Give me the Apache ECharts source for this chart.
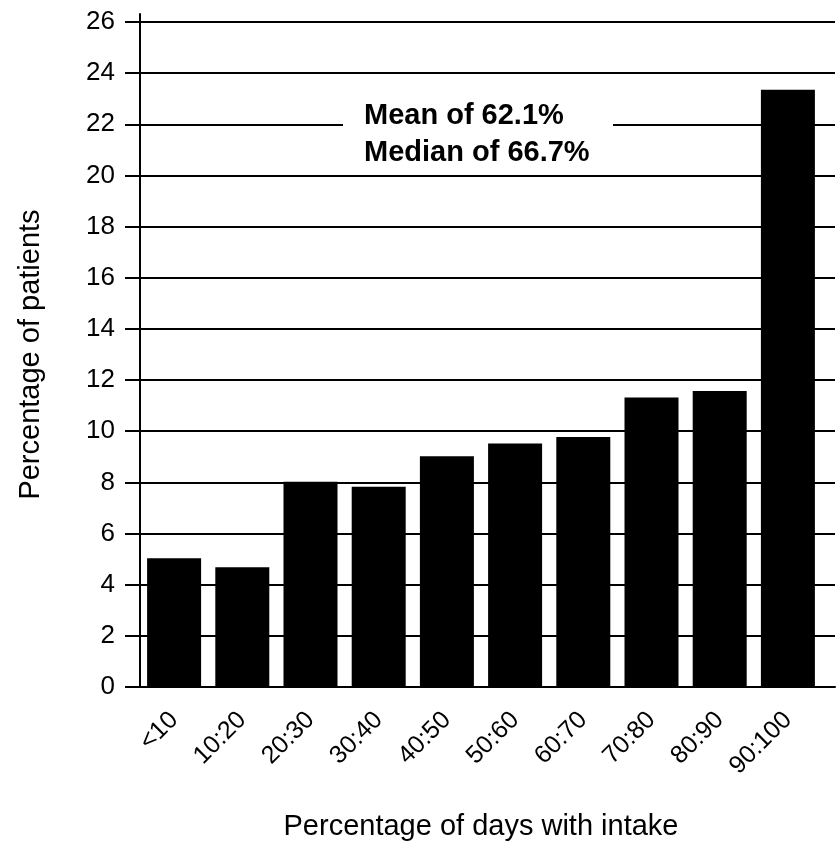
<!DOCTYPE html>
<html>
<head>
<meta charset="utf-8">
<script src="https://cdn.jsdelivr.net/npm/echarts@6/dist/echarts.min.js"></script>
<style>
  html, body { margin: 0; padding: 0; background: #fff; }
  #chart { width: 838px; height: 846px; }
</style>
</head>
<body>
<div id="chart"></div>
<script>
// Distribution of patients by share of days with intake
const categories = ['<10', '10:20', '20:30', '30:40', '40:50', '50:60', '60:70', '70:80', '80:90', '90:100'];
const patientPct = [5.0, 4.65, 8.0, 7.8, 9.0, 9.5, 9.75, 11.3, 11.55, 23.35];
const yTicks = { min: 0, max: 26, interval: 2 };
const summaryLines = ['Mean of 62.1%', 'Median of 66.7%'];

const FONT = '"Liberation Sans", Arial, Helvetica, sans-serif';
const chart = echarts.init(document.getElementById('chart'), null, { renderer: 'canvas' });

const option = {
  backgroundColor: '#ffffff',
  animation: false,
  textStyle: { fontFamily: FONT, color: '#000' },
  grid: [
    // grid 0: gridlines, tick labels and baseline across the full width
    { left: 140, right: 3, top: 22, bottom: 159 },
    // grid 1: the bars and category labels
    { left: 140, right: 16, top: 22, bottom: 159 },
    // grid 2: vertical axis line, a little taller than the scale
    { left: 140, right: 3, top: 14, bottom: 159 }
  ],
  xAxis: [
    {
      gridIndex: 0, type: 'value', min: 0, max: 1,
      axisLine: { show: true, lineStyle: { color: '#000', width: 2 } },
      axisTick: { show: false }, axisLabel: { show: false }, splitLine: { show: false }
    },
    {
      gridIndex: 1, type: 'category', data: categories,
      axisLine: { show: false }, axisTick: { show: false },
      axisLabel: {
        rotate: 45, margin: 30, fontSize: 25, color: '#000', fontFamily: FONT,
        interval: 0
      },
      name: 'Percentage of days with intake',
      nameLocation: 'middle', nameGap: 126,
      nameTextStyle: { fontSize: 29, color: '#000', fontFamily: FONT }
    },
    {
      gridIndex: 2, type: 'value', min: 0, max: 1, show: false
    }
  ],
  yAxis: [
    {
      gridIndex: 0, type: 'value', min: yTicks.min, max: yTicks.max, interval: yTicks.interval,
      axisLine: { show: false },
      axisTick: { show: true, length: 15, lineStyle: { color: '#000', width: 2 } },
      axisLabel: { fontSize: 26, color: '#000', margin: 25, fontFamily: FONT },
      splitLine: { show: true, lineStyle: { color: '#000', width: 2 } },
      name: 'Percentage of patients',
      nameLocation: 'middle', nameGap: 95,
      nameTextStyle: { fontSize: 29, color: '#000', fontFamily: FONT }
    },
    {
      gridIndex: 1, type: 'value', min: yTicks.min, max: yTicks.max, interval: yTicks.interval,
      show: false
    },
    {
      gridIndex: 2, type: 'value', min: 0, max: 1,
      axisLine: { show: true, onZero: false, lineStyle: { color: '#000', width: 2 } },
      axisTick: { show: false }, axisLabel: { show: false }, splitLine: { show: false }
    }
  ],
  series: [
    {
      type: 'bar',
      xAxisIndex: 1, yAxisIndex: 1,
      data: patientPct,
      barWidth: 54,
      itemStyle: { color: '#000' },
      z: 5
    }
  ],
  graphic: [
    {
      type: 'rect', z: 100,
      left: 343, top: 94,
      shape: { width: 270, height: 80 },
      style: { fill: '#fff' }
    },
    {
      type: 'text', z: 101,
      left: 364, top: 97,
      style: {
        text: summaryLines.join('\n'),
        font: 'bold 29px ' + FONT,
        lineHeight: 37, fill: '#000'
      }
    }
  ]
};

chart.setOption(option);
</script>
</body>
</html>
